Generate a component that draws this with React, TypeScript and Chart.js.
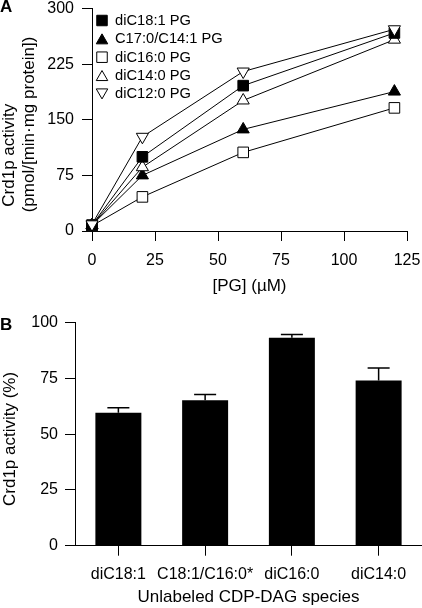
import React, { useEffect, useRef } from "react";
import { Chart, registerables } from "chart.js";

Chart.register(...registerables);

const FONT = "'Liberation Sans', Arial, Helvetica, sans-serif";

// ---------- Panel A data ----------
const pgConc = [0, 20, 60, 120];
const seriesNames = ["diC18:1 PG", "C17:0/C14:1 PG", "diC16:0 PG", "diC14:0 PG", "diC12:0 PG"];
const diC18_1 = [8, 100, 196, 267];
const c17_0_c14_1 = [8, 75, 137, 188];
const diC16_0 = [7, 46, 106, 166];
const diC14_0 = [8, 86, 176, 258];
const diC12_0 = [9, 127, 215, 272];
const yTicksA = [0, 75, 150, 225, 300];
const xTicksA = [0, 25, 50, 75, 100, 125];

// ---------- Panel B data ----------
const species = ["diC18:1", "C18:1/C16:0*", "diC16:0", "diC14:0"];
const activity = [59.6, 65.2, 93.2, 74.1];
const activityErr = [2.3, 2.6, 1.5, 5.6];
const yTicksB = [0, 25, 50, 75, 100];

const seriesValues = [diC18_1, c17_0_c14_1, diC16_0, diC14_0, diC12_0];
const markerStyles = [
  { pointStyle: "rect", bg: "#000", radius: 7.5, rotation: 0, order: 1 },
  { pointStyle: "triangle", bg: "#000", radius: 7, rotation: 0, order: 3 },
  { pointStyle: "rect", bg: "#fff", radius: 7.5, rotation: 0, order: 4 },
  { pointStyle: "triangle", bg: "#fff", radius: 7, rotation: 0, order: 2 },
  { pointStyle: "triangle", bg: "#fff", radius: 7, rotation: 180, order: 0 },
];

const tickFont = { family: FONT, size: 16 };
const titleFont = { family: FONT, size: 17 };

function drawMarker(ctx: CanvasRenderingContext2D, style: string, rotation: number, x: number, y: number, size: number, fill: string) {
  ctx.save();
  ctx.fillStyle = fill;
  ctx.strokeStyle = "#000";
  ctx.lineWidth = 1;
  ctx.beginPath();
  if (style === "rect") {
    ctx.rect(x - size / 2, y - size / 2, size, size);
  } else {
    const h = size * 0.87;
    const dir = rotation === 180 ? -1 : 1;
    ctx.moveTo(x, y - (dir * h) / 2);
    ctx.lineTo(x + size / 2, y + (dir * h) / 2);
    ctx.lineTo(x - size / 2, y + (dir * h) / 2);
    ctx.closePath();
  }
  ctx.fill();
  ctx.stroke();
  ctx.restore();
}

const insideLegendPlugin = {
  id: "insideLegend",
  afterDraw(chart: any) {
    const ctx = chart.ctx as CanvasRenderingContext2D;
    const area = chart.chartArea;
    ctx.save();
    ctx.font = `14.7px ${FONT}`;
    ctx.fillStyle = "#000";
    ctx.textBaseline = "middle";
    ctx.textAlign = "left";
    chart.data.datasets.forEach((ds: any, i: number) => {
      const y = area.top + 12 + i * 18.35;
      const mx = area.left + 10;
      const st = markerStyles[i];
      drawMarker(ctx, st.pointStyle, st.rotation, mx, y, st.pointStyle === "rect" ? 10.5 : 11.5, st.bg);
      ctx.fillStyle = "#000";
      ctx.fillText(ds.label, area.left + 23, y + 0.5);
    });
    ctx.restore();
  },
};

const errorBarPlugin = {
  id: "errorBars",
  afterDatasetsDraw(chart: any) {
    const meta = chart.getDatasetMeta(0);
    const yS = chart.scales.y;
    const ctx = chart.ctx;
    ctx.save();
    ctx.strokeStyle = "#000";
    ctx.lineWidth = 1.5;
    meta.data.forEach((bar: any, i: number) => {
      const x = bar.x;
      const yTop = yS.getPixelForValue(activity[i] + activityErr[i]);
      ctx.beginPath();
      ctx.moveTo(x, bar.y);
      ctx.lineTo(x, yTop);
      ctx.moveTo(x - 11, yTop);
      ctx.lineTo(x + 11, yTop);
      ctx.stroke();
    });
    ctx.restore();
  },
};

function PanelA() {
  const ref = useRef<HTMLCanvasElement>(null);
  useEffect(() => {
    const chart = new Chart(ref.current!, {
      type: "line",
      data: {
        datasets: seriesNames.map((name, i) => ({
          label: name,
          data: pgConc.map((x, j) => ({ x, y: seriesValues[i][j] })),
          borderColor: "#000",
          borderWidth: 1,
          backgroundColor: markerStyles[i].bg,
          pointBackgroundColor: markerStyles[i].bg,
          pointBorderColor: "#000",
          pointBorderWidth: 1,
          pointRadius: markerStyles[i].radius,
          pointStyle: markerStyles[i].pointStyle as any,
          pointRotation: markerStyles[i].rotation,
          order: markerStyles[i].order,
          clip: false as any,
          tension: 0,
        })),
      },
      plugins: [insideLegendPlugin],
      options: {
        animation: false,
        responsive: false,
        events: [],
        layout: { padding: { left: 0, right: 15, top: 7, bottom: 0 } },
        plugins: {
          tooltip: { enabled: false },
          legend: { display: false },
        },
        scales: {
          x: {
            type: "linear",
            min: 0,
            max: 125,
            afterBuildTicks: (s: any) => {
              s.ticks = xTicksA.map((v) => ({ value: v }));
            },
            afterFit: (s: any) => {
              s.height = 69;
              s.paddingLeft = 0;
              s.paddingRight = 0;
            },
            ticks: { font: tickFont, color: "#000", padding: 10, maxRotation: 0, autoSkip: false },
            grid: { drawOnChartArea: false, drawTicks: true, tickLength: 10, color: "#000", tickColor: "#000", lineWidth: 1 },
            border: { display: true, color: "#000", width: 1 },
            title: { display: true, text: "[PG] (µM)", font: titleFont, color: "#000", padding: { top: 0, bottom: 3 } },
          },
          y: {
            type: "linear",
            min: 0,
            max: 300,
            afterBuildTicks: (s: any) => {
              s.ticks = yTicksA.map((v) => ({ value: v }));
            },
            afterFit: (s: any) => {
              s.width = 92;
              s.paddingTop = 0;
              s.paddingBottom = 0;
            },
            ticks: { font: tickFont, color: "#000", padding: 8 },
            grid: { drawOnChartArea: false, drawTicks: true, tickLength: 10, color: "#000", tickColor: "#000", lineWidth: 1 },
            border: { display: true, color: "#000", width: 1 },
            title: {
              display: true,
              text: ["Crd1p activity" + "               ", "(pmol/[min·mg protein])" + "  "],
              font: titleFont,
              color: "#000",
              padding: { top: -1, bottom: 0 },
            },
          },
        },
      },
    });
    return () => chart.destroy();
  }, []);
  return <canvas ref={ref} width={422} height={300} style={{ position: "absolute", left: 0, top: 0, display: "block" }} />;
}

function PanelB() {
  const ref = useRef<HTMLCanvasElement>(null);
  useEffect(() => {
    const chart = new Chart(ref.current!, {
      type: "bar",
      data: {
        labels: species,
        datasets: [
          {
            label: "Crd1p activity",
            data: activity,
            backgroundColor: "#000",
            borderWidth: 0,
            barPercentage: 0.53,
            categoryPercentage: 1,
          },
        ],
      },
      plugins: [errorBarPlugin],
      options: {
        animation: false,
        responsive: false,
        events: [],
        layout: { padding: { left: 0, right: 0, top: 22.7, bottom: 0 } },
        plugins: { tooltip: { enabled: false }, legend: { display: false } },
        scales: {
          x: {
            type: "category",
            afterFit: (s: any) => {
              s.height = 62.3;
              s.paddingLeft = 0;
              s.paddingRight = 0;
            },
            ticks: { font: tickFont, color: "#000", padding: 9, maxRotation: 0, autoSkip: false },
            grid: { offset: false, drawOnChartArea: false, drawTicks: true, tickLength: 10, color: "#000", tickColor: "#000", lineWidth: 1 },
            border: { display: true, color: "#000", width: 1 },
            title: { display: true, text: "Unlabeled CDP-DAG species", font: titleFont, color: "#000", padding: { top: 0, bottom: 0 } },
          },
          y: {
            type: "linear",
            min: 0,
            max: 100,
            afterBuildTicks: (s: any) => {
              s.ticks = yTicksB.map((v) => ({ value: v }));
            },
            afterFit: (s: any) => {
              s.width = 75;
              s.paddingTop = 0;
              s.paddingBottom = 0;
            },
            ticks: { font: tickFont, color: "#000", padding: 7 },
            grid: { drawOnChartArea: false, drawTicks: true, tickLength: 10, color: "#000", tickColor: "#000", lineWidth: 1 },
            border: { display: true, color: "#000", width: 1 },
            title: { display: true, text: "Crd1p activity (%)" + "  ", font: titleFont, color: "#000", padding: { top: 0, bottom: 0 } },
          },
        },
      },
    });
    return () => chart.destroy();
  }, []);
  return <canvas ref={ref} width={422} height={308} style={{ position: "absolute", left: 0, top: 300, display: "block" }} />;
}

const panelLabel: React.CSSProperties = {
  position: "absolute",
  left: 0,
  fontFamily: FONT,
  fontWeight: "bold",
  fontSize: 17,
  lineHeight: "17px",
  color: "#000",
};

export default function App() {
  return (
    <div style={{ position: "absolute", left: 0, top: 0, width: 422, height: 608, background: "#fff", overflow: "hidden" }}>
      <PanelA />
      <PanelB />
      <div style={{ ...panelLabel, top: -1.7 }}>A</div>
      <div style={{ ...panelLabel, top: 316 }}>B</div>
    </div>
  );
}
